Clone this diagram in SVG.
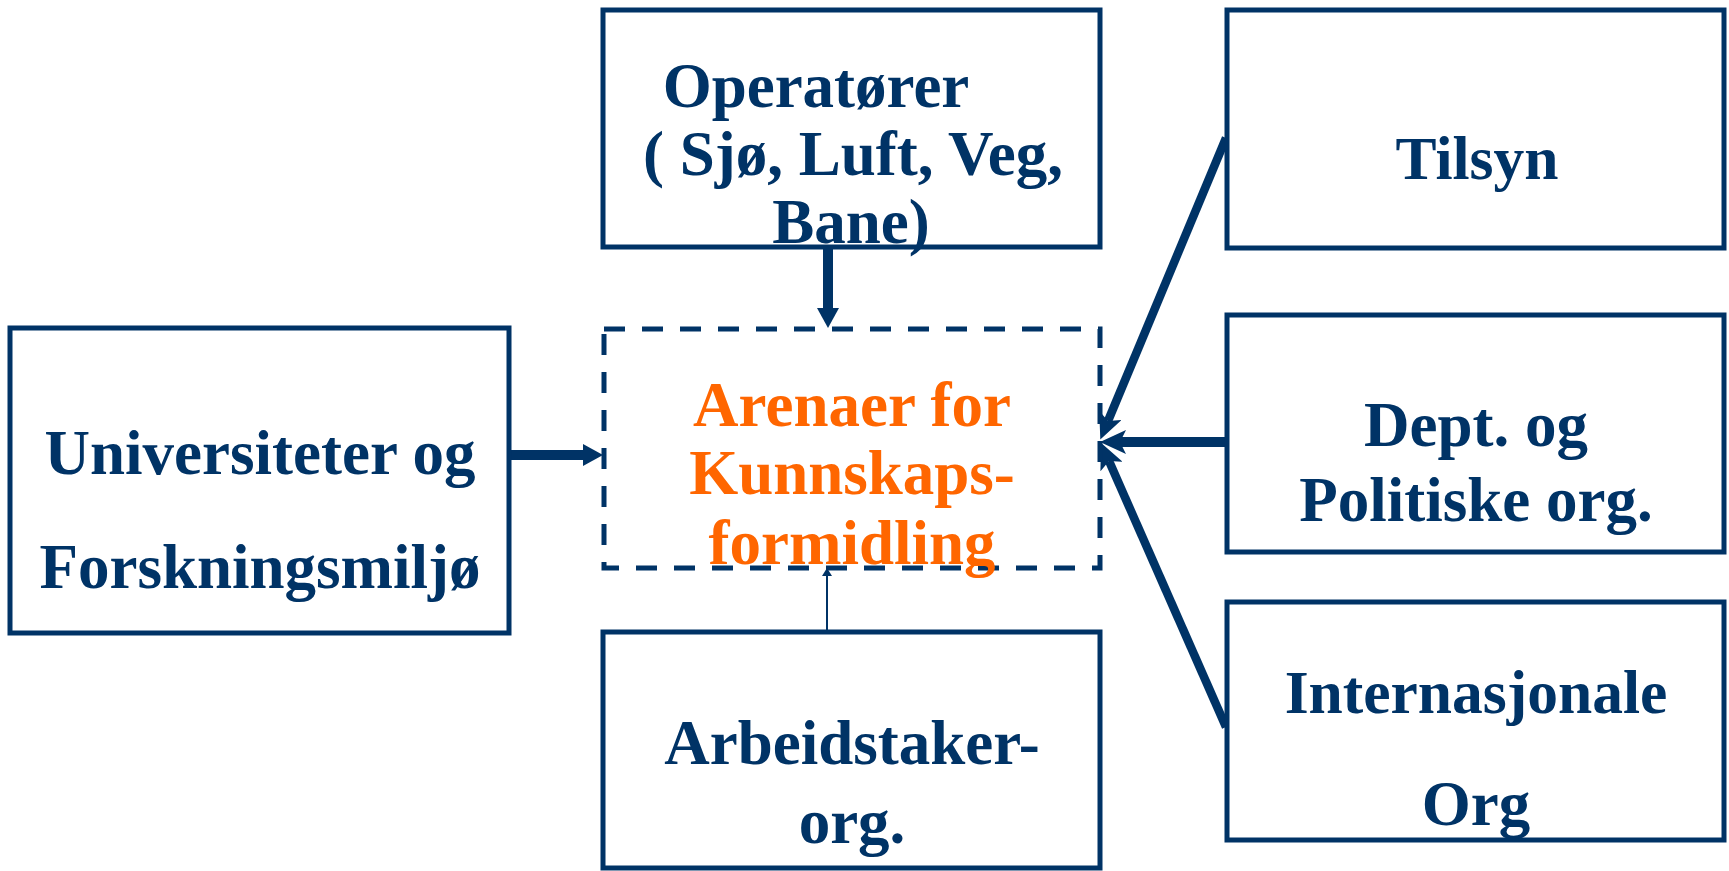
<svg xmlns="http://www.w3.org/2000/svg" width="1729" height="871" viewBox="0 0 1729 871">
  <style>
    .box { fill: #ffffff; stroke: #003366; stroke-width: 5; }
    .dash { fill: none; stroke: #003366; stroke-width: 5; stroke-dasharray: 21 17; }
    .lbl { font-family: "Liberation Serif", "Times New Roman", serif; font-weight: bold; font-size: 63px; fill: #003366; text-anchor: middle; }
    .narrow { font-size: 61.5px; }
    .hub { fill: #ff6600; }
    .thick { stroke: #003366; stroke-width: 10; fill: none; }
    .slant { stroke: #003366; stroke-width: 8.5; fill: none; }
    .thin { stroke: #003366; stroke-width: 2; fill: none; }
  </style>
  <defs>
    <marker id="head" markerUnits="userSpaceOnUse" viewBox="0 0 20 22" refX="0" refY="11" markerWidth="20" markerHeight="22" orient="auto">
      <path d="M0,0 L20,11 L0,22 z" fill="#003366"/>
    </marker>
    <marker id="barb" markerUnits="userSpaceOnUse" viewBox="0 0 26 24" refX="6" refY="12" markerWidth="26" markerHeight="24" orient="auto">
      <path d="M0,0 L26,12 L0,24 L6,12 z" fill="#003366"/>
    </marker>
    <marker id="small" markerUnits="userSpaceOnUse" viewBox="0 0 8 10" refX="0" refY="5" markerWidth="8" markerHeight="10" orient="auto">
      <path d="M0,0 L8,5 L0,10 z" fill="#003366"/>
    </marker>
  </defs>

  <!-- connectors -->
  <g id="connectors">
    <line class="thick" x1="828" y1="248" x2="828" y2="308" marker-end="url(#head)"/>
    <line class="thick" x1="509" y1="455" x2="583" y2="455" marker-end="url(#head)"/>
    <line class="thin" x1="827" y1="630" x2="827" y2="576" marker-end="url(#small)"/>
    <line class="slant" x1="1226" y1="138" x2="1108" y2="421" marker-end="url(#barb)"/>
    <line class="thick" x1="1226" y1="442" x2="1120" y2="442" marker-end="url(#barb)"/>
    <line class="slant" x1="1226" y1="727" x2="1109" y2="461" marker-end="url(#barb)"/>
  </g>

  <!-- hub -->
  <g id="arena">
    <rect class="dash" x="604" y="329" width="496" height="239"/>
    <text class="lbl hub" x="852" y="426">Arenaer for</text>
    <text class="lbl hub" x="852" y="494">Kunnskaps-</text>
    <text class="lbl hub" x="852" y="564">formidling</text>
  </g>

  <g id="operatorer">
    <rect class="box" x="603" y="10" width="497" height="237"/>
    <text class="lbl" x="816" y="107">Operatører</text>
    <text class="lbl" x="853" y="175">( Sjø, Luft, Veg,</text>
    <text class="lbl" x="851" y="243">Bane)</text>
  </g>

  <g id="tilsyn">
    <rect class="box" x="1227" y="10" width="497" height="238"/>
    <text class="lbl narrow" x="1477" y="179">Tilsyn</text>
  </g>

  <g id="universiteter">
    <rect class="box" x="10" y="328" width="499" height="305"/>
    <text class="lbl" x="260" y="474">Universiteter og</text>
    <text class="lbl" x="260" y="588">Forskningsmiljø</text>
  </g>

  <g id="dept">
    <rect class="box" x="1227" y="315" width="497" height="237"/>
    <text class="lbl" x="1476" y="446">Dept. og</text>
    <text class="lbl" x="1476" y="521">Politiske org.</text>
  </g>

  <g id="arbeidstaker">
    <rect class="box" x="603" y="632" width="497" height="236"/>
    <text class="lbl" x="852" y="764">Arbeidstaker-</text>
    <text class="lbl" x="852" y="843">org.</text>
  </g>

  <g id="internasjonale">
    <rect class="box" x="1227" y="602" width="497" height="238"/>
    <text class="lbl narrow" x="1476" y="713">Internasjonale</text>
    <text class="lbl" x="1476" y="825">Org</text>
  </g>
</svg>
